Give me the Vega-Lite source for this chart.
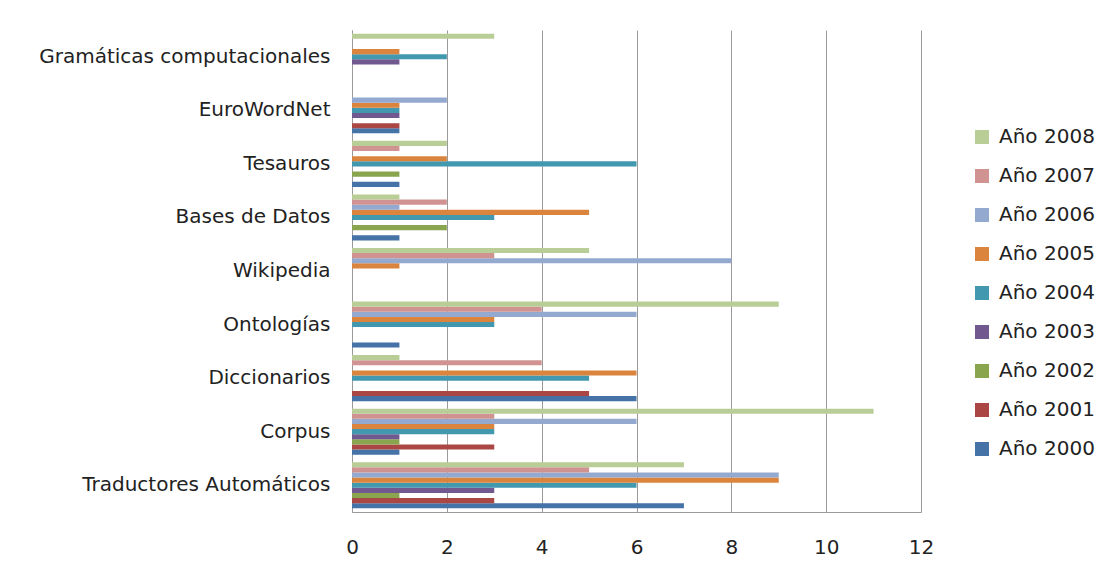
{
  "$schema": "https://vega.github.io/schema/vega-lite/v6.json",
  "autosize": {"type": "none"},
  "padding": {"left": 352, "top": 30, "right": 187, "bottom": 63},
  "width": 569,
  "height": 482,
  "background": "white",
  "config": {
    "font": "DejaVu Sans",
    "view": {"stroke": null},
    "axis": {"labelColor": "#222222", "labelFontSize": 20, "labelFont": "DejaVu Sans", "labelLimit": 0, "ticks": false, "title": null, "domainColor": "#9a9a9a", "gridColor": "#9a9a9a"},
    "legend": {"labelColor": "#222222", "labelFontSize": 20, "labelFont": "DejaVu Sans", "labelLimit": 0}
  },
  "data": {
    "values": [
      {"categoria": "Traductores Automáticos", "serie": "Año 2000", "valor": 7},
      {"categoria": "Traductores Automáticos", "serie": "Año 2001", "valor": 3},
      {"categoria": "Traductores Automáticos", "serie": "Año 2002", "valor": 1},
      {"categoria": "Traductores Automáticos", "serie": "Año 2003", "valor": 3},
      {"categoria": "Traductores Automáticos", "serie": "Año 2004", "valor": 6},
      {"categoria": "Traductores Automáticos", "serie": "Año 2005", "valor": 9},
      {"categoria": "Traductores Automáticos", "serie": "Año 2006", "valor": 9},
      {"categoria": "Traductores Automáticos", "serie": "Año 2007", "valor": 5},
      {"categoria": "Traductores Automáticos", "serie": "Año 2008", "valor": 7},
      {"categoria": "Corpus", "serie": "Año 2000", "valor": 1},
      {"categoria": "Corpus", "serie": "Año 2001", "valor": 3},
      {"categoria": "Corpus", "serie": "Año 2002", "valor": 1},
      {"categoria": "Corpus", "serie": "Año 2003", "valor": 1},
      {"categoria": "Corpus", "serie": "Año 2004", "valor": 3},
      {"categoria": "Corpus", "serie": "Año 2005", "valor": 3},
      {"categoria": "Corpus", "serie": "Año 2006", "valor": 6},
      {"categoria": "Corpus", "serie": "Año 2007", "valor": 3},
      {"categoria": "Corpus", "serie": "Año 2008", "valor": 11},
      {"categoria": "Diccionarios", "serie": "Año 2000", "valor": 6},
      {"categoria": "Diccionarios", "serie": "Año 2001", "valor": 5},
      {"categoria": "Diccionarios", "serie": "Año 2004", "valor": 5},
      {"categoria": "Diccionarios", "serie": "Año 2005", "valor": 6},
      {"categoria": "Diccionarios", "serie": "Año 2007", "valor": 4},
      {"categoria": "Diccionarios", "serie": "Año 2008", "valor": 1},
      {"categoria": "Ontologías", "serie": "Año 2000", "valor": 1},
      {"categoria": "Ontologías", "serie": "Año 2004", "valor": 3},
      {"categoria": "Ontologías", "serie": "Año 2005", "valor": 3},
      {"categoria": "Ontologías", "serie": "Año 2006", "valor": 6},
      {"categoria": "Ontologías", "serie": "Año 2007", "valor": 4},
      {"categoria": "Ontologías", "serie": "Año 2008", "valor": 9},
      {"categoria": "Wikipedia", "serie": "Año 2005", "valor": 1},
      {"categoria": "Wikipedia", "serie": "Año 2006", "valor": 8},
      {"categoria": "Wikipedia", "serie": "Año 2007", "valor": 3},
      {"categoria": "Wikipedia", "serie": "Año 2008", "valor": 5},
      {"categoria": "Bases de Datos", "serie": "Año 2000", "valor": 1},
      {"categoria": "Bases de Datos", "serie": "Año 2002", "valor": 2},
      {"categoria": "Bases de Datos", "serie": "Año 2004", "valor": 3},
      {"categoria": "Bases de Datos", "serie": "Año 2005", "valor": 5},
      {"categoria": "Bases de Datos", "serie": "Año 2006", "valor": 1},
      {"categoria": "Bases de Datos", "serie": "Año 2007", "valor": 2},
      {"categoria": "Bases de Datos", "serie": "Año 2008", "valor": 1},
      {"categoria": "Tesauros", "serie": "Año 2000", "valor": 1},
      {"categoria": "Tesauros", "serie": "Año 2002", "valor": 1},
      {"categoria": "Tesauros", "serie": "Año 2004", "valor": 6},
      {"categoria": "Tesauros", "serie": "Año 2005", "valor": 2},
      {"categoria": "Tesauros", "serie": "Año 2007", "valor": 1},
      {"categoria": "Tesauros", "serie": "Año 2008", "valor": 2},
      {"categoria": "EuroWordNet", "serie": "Año 2000", "valor": 1},
      {"categoria": "EuroWordNet", "serie": "Año 2001", "valor": 1},
      {"categoria": "EuroWordNet", "serie": "Año 2003", "valor": 1},
      {"categoria": "EuroWordNet", "serie": "Año 2004", "valor": 1},
      {"categoria": "EuroWordNet", "serie": "Año 2005", "valor": 1},
      {"categoria": "EuroWordNet", "serie": "Año 2006", "valor": 2},
      {"categoria": "Gramáticas computacionales", "serie": "Año 2003", "valor": 1},
      {"categoria": "Gramáticas computacionales", "serie": "Año 2004", "valor": 2},
      {"categoria": "Gramáticas computacionales", "serie": "Año 2005", "valor": 1},
      {"categoria": "Gramáticas computacionales", "serie": "Año 2008", "valor": 3}
    ]
  },
  "mark": {"type": "bar"},
  "encoding": {
    "y": {
      "field": "categoria",
      "type": "nominal",
      "sort": ["Gramáticas computacionales", "EuroWordNet", "Tesauros", "Bases de Datos", "Wikipedia", "Ontologías", "Diccionarios", "Corpus", "Traductores Automáticos"],
      "scale": {"paddingInner": 0.14, "paddingOuter": 0.07},
      "axis": {"labelPadding": 22, "domain": true, "grid": false}
    },
    "yOffset": {
      "field": "serie",
      "type": "nominal",
      "scale": {"domain": ["Año 2008", "Año 2007", "Año 2006", "Año 2005", "Año 2004", "Año 2003", "Año 2002", "Año 2001", "Año 2000"], "padding": 0}
    },
    "x": {
      "field": "valor",
      "type": "quantitative",
      "scale": {"domain": [0, 12], "nice": false},
      "axis": {"values": [0, 2, 4, 6, 8, 10, 12], "grid": true, "labelPadding": 25, "domain": true, "labelFlush": false}
    },
    "color": {
      "field": "serie",
      "type": "nominal",
      "scale": {
        "domain": ["Año 2008", "Año 2007", "Año 2006", "Año 2005", "Año 2004", "Año 2003", "Año 2002", "Año 2001", "Año 2000"],
        "range": ["#B9CD96", "#D19392", "#93A9CF", "#DB843D", "#4198AF", "#71588F", "#89A54E", "#AA4643", "#4572A7"]
      },
      "legend": {
        "title": null,
        "orient": "none",
        "legendX": 620,
        "legendY": 97,
        "symbolType": "square",
        "symbolSize": 196,
        "symbolStrokeWidth": 0,
        "labelOffset": 7,
        "rowPadding": 19
      }
    }
  }
}
